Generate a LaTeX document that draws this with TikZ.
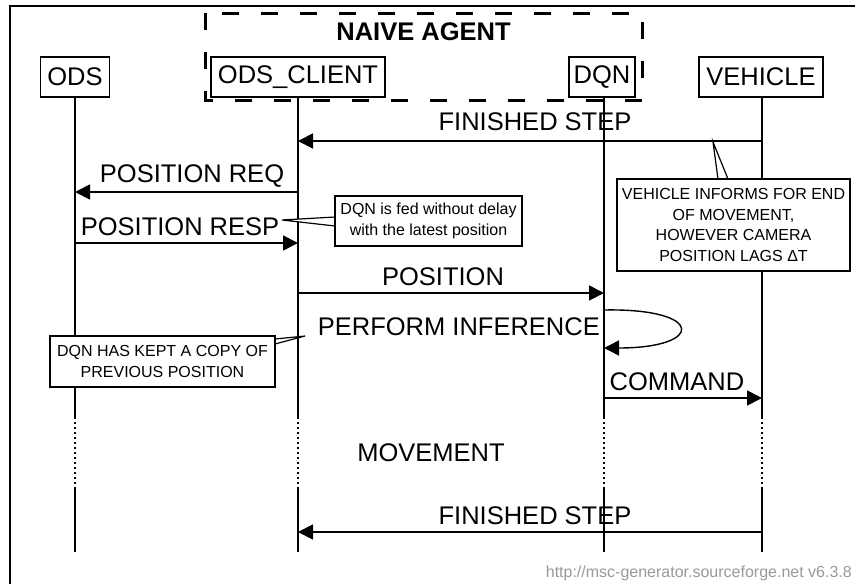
\documentclass[tikz,border=0pt]{standalone}
\usepackage{fontspec}
\setmainfont{Liberation Sans}
\usetikzlibrary{arrows.meta}
\definecolor{footgray}{HTML}{9A9A9A}
\begin{document}
\begin{tikzpicture}[x=1pt,y=-1pt,
 big/.style={font=\fontsize{25.5}{30}\selectfont},
 ent/.style={draw,line width=1.3pt,minimum height=40pt,inner sep=0pt,big,fill=white},
 life/.style={line width=1.5pt},
 dots/.style={line width=1.5pt,dash pattern=on 2pt off 3pt},
 msg/.style={line width=1.8pt,-{Triangle[length=15pt,width=15pt]}},
 selfmsg/.style={line width=1.4pt,-{Triangle[length=15pt,width=15pt]}},
 lbl/.style={big,inner sep=0pt},
 note/.style={draw,line width=1.2pt,fill=white,font=\fontsize{16}{20.5}\selectfont,align=center,inner sep=0pt},
 wedge/.style={line width=1.2pt,fill=white},
]
\useasboundingbox (0,0) rectangle (855,584);
\clip (0,0) rectangle (855,584);
\fill[white] (0,0) rectangle (855,584);

% frame
\draw[line width=1.5pt] (10,600) -- (10,6) -- (870,6);

% group box
\draw[line width=3pt,dash pattern=on 17pt off 22pt] (205,13) rectangle (642,100);
\node[lbl,font=\bfseries\fontsize{25.5}{30}\selectfont] (grp) at (423.5,32) {NAIVE AGENT};

% entities
\node[ent,minimum width=69pt]  (ods) at (75,77)  {ODS};
\node[ent,minimum width=174pt] (cli) at (298,77) {ODS\_CLIENT};
\node[ent,minimum width=66pt]  (dqn) at (602,77) {DQN};
\node[ent,minimum width=124pt] (veh) at (761,77) {VEHICLE};

% lifelines
\foreach \n/\x in {ods/75,cli/298,dqn/604,veh/762}{
  \coordinate (\n top) at (\x,97);
  \coordinate (\n d1) at (\x,417);
  \coordinate (\n d2) at (\x,488);
  \coordinate (\n end) at (\x,552);
  \draw[life] (\n top) -- (\n d1);
  \draw[dots] (\n d1) -- (\n d2);
  \draw[life] (\n d2) -- (\n end);
}

% messages
\coordinate (m1a) at (762,141); \coordinate (m1b) at (298,141);
\draw[msg] (m1a) -- (m1b);
\node[lbl] (l1) at (535,122) {FINISHED STEP};

\coordinate (m2a) at (298,192); \coordinate (m2b) at (75,192);
\draw[msg] (m2a) -- (m2b);
\node[lbl] (l2) at (192,176) {POSITION REQ};

\coordinate (m3a) at (75,243); \coordinate (m3b) at (298,243);
\draw[msg] (m3a) -- (m3b);
\node[lbl] (l3) at (180,227) {POSITION RESP};

\coordinate (m4a) at (298,293); \coordinate (m4b) at (604,293);
\draw[msg] (m4a) -- (m4b);
\node[lbl] (l4) at (443,277) {POSITION};

\coordinate (m5a) at (604,310); \coordinate (m5b) at (604,348);
\draw[selfmsg] (m5a) .. controls (705,308) and (705,348) .. (m5b);
\node[lbl,anchor=east] (l5) at (600,327) {PERFORM INFERENCE};

\coordinate (m6a) at (604,398); \coordinate (m6b) at (762,398);
\draw[msg] (m6a) -- (m6b);
\node[lbl] (l6) at (677,382) {COMMAND};

\node[lbl] (l7) at (431,453) {MOVEMENT};

\coordinate (m8a) at (762,532); \coordinate (m8b) at (298,532);
\draw[msg] (m8a) -- (m8b);
\node[lbl] (l8) at (535,516) {FINISHED STEP};

% notes
\coordinate (t1) at (282,220);
\filldraw[wedge] (335,217) -- (t1) -- (335,226);
\node[note,minimum width=187pt,minimum height=50pt] (n1) at (428.5,221)
  {DQN is fed without delay\\with the latest position};

\coordinate (t2) at (713,142);
\filldraw[wedge] (718,179) -- (t2) -- (728,179);
\node[note,minimum width=233pt,minimum height=92pt] (n2) at (733.5,225)
  {VEHICLE INFORMS FOR END\\OF MOVEMENT,\\HOWEVER CAMERA\\POSITION LAGS ΔT};

\coordinate (t3) at (305,336);
\filldraw[wedge] (275,339) -- (t3) -- (275,344);
\node[note,minimum width=225pt,minimum height=51pt] (n3) at (162.5,361.5)
  {DQN HAS KEPT A COPY OF\\PREVIOUS POSITION};

% footer
\node[anchor=east,text=footgray,font=\fontsize{16}{18}\selectfont,inner sep=0pt] (foot) at (852,573)
  {http://msc-generator.sourceforge.net v6.3.8};
\end{tikzpicture}
\end{document}
